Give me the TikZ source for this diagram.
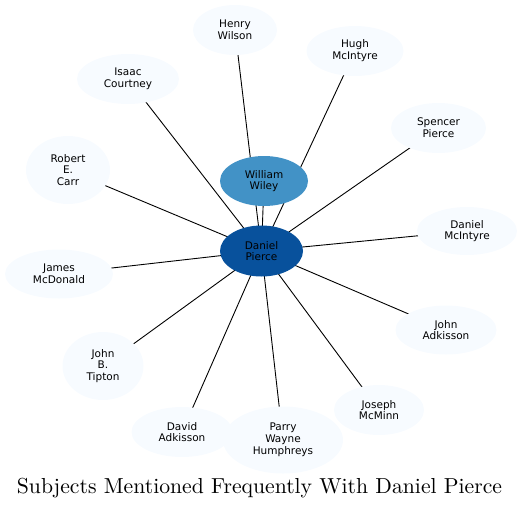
\documentclass[tikz,border=0pt]{standalone}
\usepackage{fontspec}
\newfontfamily\labelfont{DejaVu Sans}
\usetikzlibrary{shapes.geometric, backgrounds}

\definecolor{leafblue}{HTML}{F7FBFF}
\definecolor{midblue}{HTML}{4292C6}
\definecolor{deepblue}{HTML}{08519C}

\begin{document}
\begin{tikzpicture}[x=1pt, y=-1pt,
    person/.style={ellipse, fill=leafblue, inner sep=0pt, align=center,
        font=\labelfont\fontsize{10.5}{11.8}\selectfont},
    link/.style={black, line width=0.9pt}]
    % Fix the canvas to the reference size
    \useasboundingbox (0,0) rectangle (519,509);

    % Central subject and the second hub
    \node[person, fill=deepblue, minimum width=83pt, minimum height=51pt] (pierce) at (261.5,251) {Daniel\\Pierce};
    \node[person, fill=midblue, minimum width=88pt, minimum height=50pt] (wiley) at (264,181) {William\\Wiley};

    % Surrounding subjects
    \node[person, minimum width=84pt, minimum height=50pt] (wilson) at (235,30) {Henry\\Wilson};
    \node[person, minimum width=97pt, minimum height=50pt] (hugh) at (355,51) {Hugh\\McIntyre};
    \node[person, minimum width=102pt, minimum height=50pt] (courtney) at (128,79) {Isaac\\Courtney};
    \node[person, minimum width=95pt, minimum height=50pt] (spencer) at (438.5,128) {Spencer\\Pierce};
    \node[person, minimum width=84pt, minimum height=68pt] (carr) at (68,170) {Robert\\E.\\Carr};
    \node[person, minimum width=100pt, minimum height=48pt] (danmc) at (467,231) {Daniel\\McIntyre};
    \node[person, minimum width=108pt, minimum height=49pt] (mcdonald) at (59,274) {James\\McDonald};
    \node[person, minimum width=101pt, minimum height=49pt] (johnadk) at (446,330) {John\\Adkisson};
    \node[person, minimum width=81pt, minimum height=68pt] (tipton) at (103,366) {John\\B.\\Tipton};
    \node[person, minimum width=101pt, minimum height=50pt] (davidadk) at (182,432) {David\\Adkisson};
    \node[person, minimum width=120pt, minimum height=67pt] (parry) at (283,440) {Parry\\Wayne\\Humphreys};
    \node[person, minimum width=90pt, minimum height=50pt] (mcminn) at (379,410) {Joseph\\McMinn};

    % Links from the central subject, kept behind the ellipses
    \begin{scope}[on background layer]
        \foreach \n in {wiley, wilson, hugh, courtney, spencer, carr, danmc, mcdonald, johnadk, tipton, davidadk, parry, mcminn} {
            \draw[link] (pierce.center) -- (\n.center);
        }
    \end{scope}

    % Title
    \node[anchor=base, scale=2.17] (title) at (259.5,493) {Subjects Mentioned Frequently With Daniel Pierce};
\end{tikzpicture}
\end{document}
